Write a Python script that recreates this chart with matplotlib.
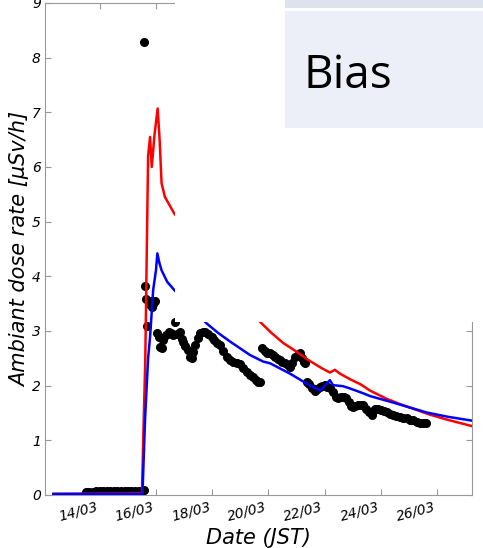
import matplotlib.pyplot as plt
from matplotlib.patches import Rectangle

# days of March (JST), dose rate in uSv/h
red_t = [12.35, 15.50, 15.62, 15.72, 15.79, 15.85, 15.95, 16.06, 16.13, 16.20, 16.32, 16.65,
         19.70, 20.10, 20.53, 21.01, 21.42, 21.90, 22.19, 22.37, 22.55, 22.90, 23.30, 23.62,
         24.21, 24.70, 25.20, 25.75, 26.35, 27.25]
red_v = [0.02, 0.03, 2.50, 6.20, 6.55, 6.00, 6.60, 7.07, 6.50, 5.70, 5.45, 5.15,
         3.17, 2.97, 2.78, 2.62, 2.47, 2.32, 2.24, 2.29, 2.22, 2.12, 2.02, 1.91,
         1.76, 1.66, 1.57, 1.47, 1.38, 1.26]

blue_t = [12.35, 15.52, 15.61, 15.72, 15.79, 15.90, 16.00, 16.05, 16.12, 16.20, 16.40, 16.65,
          17.80, 18.20, 18.63, 19.35, 19.82, 20.06, 20.77, 21.36, 21.84, 22.19, 22.30, 22.66,
          22.90, 23.38, 23.62, 24.45, 25.04, 25.63, 26.40, 27.25]
blue_v = [0.02, 0.02, 1.37, 2.50, 2.89, 3.75, 4.11, 4.42, 4.25, 4.11, 3.90, 3.75,
          3.14, 2.97, 2.81, 2.56, 2.44, 2.41, 2.22, 2.04, 1.91, 2.10, 2.01, 1.99,
          1.95, 1.86, 1.81, 1.69, 1.60, 1.51, 1.43, 1.36]

obs_t = [13.50, 13.62, 13.75, 13.88, 14.00, 14.12, 14.25, 14.38, 14.50, 14.62, 14.75, 14.88,
         15.00, 15.12, 15.25, 15.38, 15.50, 15.56,
         15.58, 15.62, 15.64, 15.67, 15.76, 15.82, 15.86, 15.90, 15.97,
         16.05, 16.10, 16.16, 16.20, 16.26, 16.35, 16.45, 16.55, 16.62, 16.68, 16.75, 16.85,
         16.92, 16.97, 17.05, 17.15, 17.22, 17.27, 17.33, 17.39, 17.48, 17.57, 17.66, 17.74,
         17.85, 17.98, 18.08, 18.18, 18.28, 18.40, 18.52, 18.63, 18.75, 18.87, 18.99, 19.11,
         19.23, 19.35, 19.46, 19.55, 19.64, 19.72,
         19.78, 19.88, 19.97, 20.06, 20.15, 20.25, 20.33, 20.41, 20.50, 20.60, 20.70, 20.77,
         20.85, 20.95, 21.04, 21.12, 21.20, 21.26, 21.30,
         21.36, 21.45, 21.55, 21.66, 21.75, 21.84, 21.92, 22.01, 22.10, 22.20, 22.30, 22.40,
         22.48, 22.58, 22.68, 22.78, 22.88, 22.95, 23.01, 23.10, 23.20, 23.30, 23.38, 23.48,
         23.58, 23.68, 23.73, 23.80, 23.90, 24.00, 24.10, 24.21, 24.32, 24.45, 24.56, 24.68,
         24.80, 24.92, 25.04, 25.16, 25.28, 25.40, 25.52, 25.63]
obs_v = [0.05, 0.06, 0.06, 0.07, 0.07, 0.07, 0.08, 0.08, 0.07, 0.07, 0.08, 0.08,
         0.08, 0.07, 0.07, 0.08, 0.08, 0.09,
         8.28, 3.82, 3.58, 3.09, 3.50, 3.55, 3.44, 3.50, 3.55,
         2.96, 2.89, 2.71, 2.68, 2.83, 2.92, 2.99, 2.96, 2.92, 3.17, 2.95, 2.99,
         2.85, 2.80, 2.72, 2.65, 2.53, 2.50, 2.62, 2.74, 2.88, 2.96, 2.99, 2.98,
         2.94, 2.89, 2.84, 2.78, 2.74, 2.63, 2.53, 2.47, 2.44, 2.42, 2.40, 2.32,
         2.25, 2.20, 2.16, 2.10, 2.07, 2.06,
         2.68, 2.64, 2.60, 2.59, 2.56, 2.52, 2.49, 2.47, 2.44, 2.41, 2.37, 2.35,
         2.42, 2.53, 2.57, 2.59, 2.50, 2.44, 2.41,
         2.07, 2.03, 1.96, 1.90, 1.93, 1.97, 2.00, 2.01, 1.98, 1.95, 1.88, 1.80,
         1.77, 1.79, 1.80, 1.78, 1.70, 1.62, 1.61, 1.63, 1.65, 1.65, 1.64, 1.58,
         1.52, 1.47, 1.53, 1.58, 1.57, 1.55, 1.54, 1.52, 1.49, 1.46, 1.45, 1.43,
         1.41, 1.40, 1.38, 1.37, 1.34, 1.31, 1.31, 1.31]

x_ticks = [14, 16, 18, 20, 22, 24, 26]
x_labels = ["14/03", "16/03", "18/03", "20/03", "22/03", "24/03", "26/03"]

W, H = 483, 548
fig = plt.figure(figsize=(W / 100, H / 100), dpi=100)
ax = fig.add_axes([45 / W, 1 - 495 / H, (472 - 45) / W, (495 - 3) / H])

ax.plot(obs_t, obs_v, "o", color="black", markersize=5.5, zorder=2)
ax.plot(red_t, red_v, color="red", linewidth=1.8, zorder=3)
ax.plot(blue_t, blue_v, color="blue", linewidth=1.8, zorder=4)

ax.set_xlim(12.05, 27.25)
ax.set_ylim(0, 9)
ax.set_xticks(x_ticks)
ax.set_xticklabels(x_labels, rotation=15, ha="right", fontsize=10, fontstyle="italic")
ax.set_yticks(range(10))
ax.set_yticklabels([str(i) for i in range(10)], fontsize=10, fontstyle="italic")
ax.tick_params(direction="in", top=True, right=True, length=4, width=0.8, color="#999999", pad=3)
for s in ax.spines.values():
    s.set_color("#999999")

ax.set_xlabel("Date (JST)", fontsize=15, fontstyle="italic")
ax.set_ylabel("Ambiant dose rate [µSv/h]", fontsize=15, fontstyle="italic")
ax.xaxis.set_label_coords(0.5, -0.068)
ax.yaxis.set_label_coords(-0.035, 0.5)

# white cover over the upper right part, and the slide box on top
fig.add_artist(Rectangle((175 / W, 1 - 322 / H), 1, 1, transform=fig.transFigure,
                         facecolor="white", edgecolor="none", zorder=5))
fig.add_artist(Rectangle((285 / W, 1 - 8 / H), 1, 1, transform=fig.transFigure,
                         facecolor="#dce2ee", edgecolor="none", zorder=6))
fig.add_artist(Rectangle((285 / W, 1 - 128 / H), 1, (128 - 11) / H, transform=fig.transFigure,
                         facecolor="#eceff7", edgecolor="none", zorder=6))
fig.text(304 / W, 1 - 88 / H, "Bias", fontsize=33, family="Open Sans",
         ha="left", va="baseline", zorder=7)

fig.savefig("out.png", dpi=100)
plt.close()
